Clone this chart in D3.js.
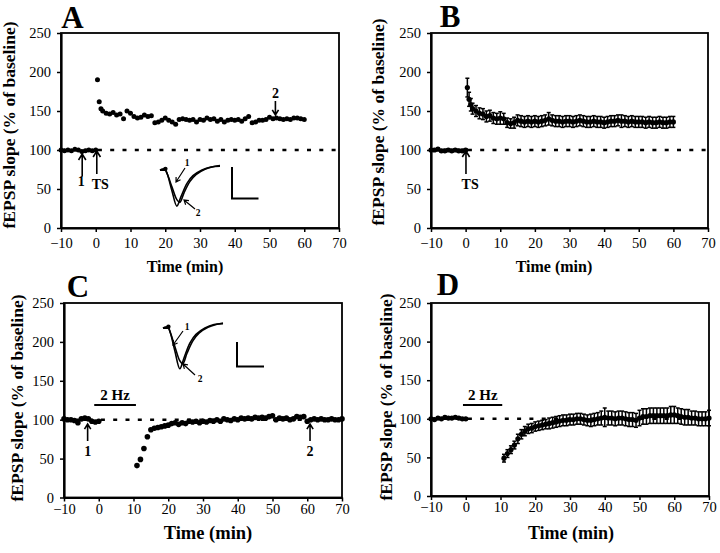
<!DOCTYPE html>
<html><head><meta charset="utf-8">
<script src="https://cdn.jsdelivr.net/npm/d3@7"></script>
<style>body{margin:0;background:#fff}svg{display:block}</style>
</head><body>
<svg id="chart" width="720" height="553"></svg>
<script>
// ---------- DATA ----------
const xTicks = [-10,0,10,20,30,40,50,60,70];
const yTicks = [0,50,100,150,200,250];

// Panel A: single experiment, TS-induced LTP
const timeA = [-10,-9,-8,-7,-6,-5,-4,-3,-2,-1,0,0.5,1,1.5,2,3,4,5,6,7,8,9,10,11,12,13,14,15,16,17,18,19,20,21,22,23,24,25,26,27,28,29,30,31,32,33,34,35,36,37,38,39,40,41,42,43,44,45,46,47,48,49,50,51,52,53,54,55,56,57,58,59,60];
const slopeA = [100,99,100,99,101,100,98,99,100,99,100,190,162,153,150,147,146,148,145,146,140,150,147,143,141,142,145,143,144,135,136,138,141,138,136,133,139,140,139,138,139,136,139,138,141,139,140,137,139,136,138,139,138,139,137,140,143,135,136,138,138,139,142,140,141,140,139,140,139,141,141,140,139];

// Panel B: group mean ± SEM, TS
const timeB = [-10,-9,-8,-7,-6,-5,-4,-3,-2,-1,0,0.5,1,1.5,2,3,4,5,6,7,8,9,10,11,12,13,14,15,16,17,18,19,20,21,22,23,24,25,26,27,28,29,30,31,32,33,34,35,36,37,38,39,40,41,42,43,44,45,46,47,48,49,50,51,52,53,54,55,56,57,58,59,60];
const meanB = [100,100,101,99,99,100,99,100,99,99,100,180,165,158,153,150,147,146,143,144,141,140,141,140,135,134,135,138,137,136,137,136,137,136,137,138,140,138,137,137,136,137,137,136,137,138,137,136,136,137,136,136,135,136,137,137,138,137,137,136,137,136,136,136,135,136,135,135,136,135,135,136,136];
const semB  = [1.5,1.5,1.5,1.5,1.5,1.5,1.5,1.5,1.5,1.5,1.5,12,9,8,7,7,7,7,7,7,7,7,8,7,6,6,7,7,7,7,7,7,7,7,7,7,8,7,7,7,7,7,7,7,7,7,7,7,7,7,7,7,7,7,7,7,7,8,7,7,7,7,7,7,7,7,7,7,7,7,7,7,7];

// Panel C: single experiment, 2 Hz stimulation
const timeC = [-10,-9,-8,-7,-6,-5,-4,-3,-2,-1,0,11,12,13,14,15,16,17,18,19,20,21,22,23,24,25,26,27,28,29,30,31,32,33,34,35,36,37,38,39,40,41,42,43,44,45,46,47,48,49,50,51,52,53,54,55,56,57,58,59,60,61,62,63,64,65,66,67,68,69,70];
const slopeC = [101,100,100,99,96,101,102,101,98,97,98,41,49,63,78,87,89,90,91,92,93,95,96,94,96,95,98,97,98,96,98,97,99,98,100,98,101,100,99,101,100,102,101,102,101,103,102,103,102,104,105,100,102,101,102,100,101,104,103,104,98,100,101,100,101,100,100,101,100,100,101];

// Panel D: group mean ± SEM, 2 Hz
const timeD = [-10,-9,-8,-7,-6,-5,-4,-3,-2,-1,0,11,12,13,14,15,16,17,18,19,20,21,22,23,24,25,26,27,28,29,30,31,32,33,34,35,36,37,38,39,40,41,42,43,44,45,46,47,48,49,50,51,52,53,54,55,56,57,58,59,60,61,62,63,64,65,66,67,68,69,70];
const meanD = [100,99,101,100,102,101,101,102,101,100,100,49,55,60,66,74,80,84,87,88,90,91,92,93,94,95,96,97,98,98,99,99,100,100,99,98,98,99,100,101,102,101,101,100,101,101,100,99,99,98,101,103,103,104,104,104,104,104,104,105,105,104,103,102,102,101,101,100,100,100,101];
const semD  = [1,1,1,1,1,1,1,1,1,1,1,5,5,5,5,6,6,6,6,6,6,6,6,6,7,7,7,7,7,7,7,7,7,7,7,7,8,8,8,9,12,9,9,9,9,9,9,9,9,9,10,10,10,10,10,10,10,10,10,11,11,10,10,10,10,9,9,9,9,9,10];

// Inset EPSP sketches (arbitrary units: time, voltage)
const insetTime1 = [0,0.8,1.2,2.0,2.8,3.3,4.0,5.0,6.0,7.5,9.0,10];
const insetVolt1 = [0,0.02,-0.1,-0.45,-0.78,-0.85,-0.6,-0.3,-0.12,0.02,0.09,0.12];
const insetTime2 = [0,0.8,1.2,2.0,2.8,3.5,4.5,5.5,7.0,8.5,10];
const insetVolt2 = [0,0.02,-0.1,-0.55,-0.95,-0.7,-0.35,-0.15,0.0,0.08,0.1];

// ---------- DRAW ----------
const svg = d3.select("#chart");
const SERIF = "'Liberation Serif','Times New Roman',serif";

function panel(cfg){
  const x = d3.scaleLinear().domain([-10,70]).range([cfg.left,cfg.right]);
  const y = d3.scaleLinear().domain([0,250]).range([cfg.bottom,cfg.top]);
  const g = svg.append("g");
  g.append("rect").attr("x",cfg.left).attr("y",cfg.top)
    .attr("width",cfg.right-cfg.left).attr("height",cfg.bottom-cfg.top)
    .attr("fill","none").attr("stroke","#000").attr("stroke-width",1.8);
  g.append("line").attr("x1",x(-10)).attr("x2",x(70)).attr("y1",y(100)).attr("y2",y(100))
    .attr("stroke","#000").attr("stroke-width",2.6).attr("stroke-dasharray","4,8.3");
  const ax = g.append("g").attr("transform",`translate(0,${cfg.bottom})`)
    .call(d3.axisBottom(x).tickValues(xTicks).tickFormat(d3.format("d")).tickSize(4).tickSizeOuter(0).tickPadding(cfg.xpad));
  const ay = g.append("g").attr("transform",`translate(${cfg.left},0)`)
    .call(d3.axisLeft(y).tickValues(yTicks).tickSize(4).tickSizeOuter(0).tickPadding(6));
  [ax,ay].forEach(a=>{
    a.attr("font-family",SERIF).attr("font-size",14.5);
    a.select(".domain").attr("stroke-width",2.2);
    a.selectAll(".tick line").attr("stroke-width",1.5);
    a.selectAll("text").attr("font-family",SERIF).attr("font-size",14.5).attr("fill","#000");
  });
  g.append("text").attr("x",cfg.xtX).attr("y",cfg.xtY).attr("text-anchor","middle")
    .attr("font-family",SERIF).attr("font-weight","bold").attr("font-size",cfg.xtSize).text("Time (min)");
  g.append("text").attr("transform",`translate(${cfg.ytX},${cfg.ytY}) rotate(-90)`).attr("text-anchor","middle")
    .attr("font-family",SERIF).attr("font-weight","bold").attr("font-size",17.5).text("fEPSP slope (% of baseline)");
  g.append("text").attr("x",cfg.lx).attr("y",cfg.ly).attr("text-anchor","middle")
    .attr("font-family",SERIF).attr("font-weight","bold").attr("font-size",31).text(cfg.letter);
  return {x,y,g};
}

function dots(p, times, vals, r){
  p.g.append("g").selectAll("circle").data(times).join("circle")
    .attr("cx",d=>p.x(d)).attr("cy",(d,i)=>p.y(vals[i])).attr("r",r).attr("fill","#000");
}
function errDots(p, times, means, sems, r){
  const gg = p.g.append("g").attr("stroke","#000").attr("stroke-width",1.5);
  times.forEach((t,i)=>{
    const cx = p.x(t), hi = p.y(means[i]+sems[i]), lo = p.y(means[i]-sems[i]);
    gg.append("line").attr("x1",cx).attr("x2",cx).attr("y1",hi).attr("y2",lo);
    gg.append("line").attr("x1",cx-2).attr("x2",cx+2).attr("y1",hi).attr("y2",hi);
    gg.append("line").attr("x1",cx-2).attr("x2",cx+2).attr("y1",lo).attr("y2",lo);
  });
  p.g.append("g").selectAll("circle").data(times).join("circle")
    .attr("cx",d=>p.x(d)).attr("cy",(d,i)=>p.y(means[i])).attr("r",r).attr("fill","#000");
}
function arrow(g, x1,y1,x2,y2, head, w){
  const a = Math.atan2(y2-y1,x2-x1), s = 0.55;
  g.append("path").attr("fill","none").attr("stroke","#000").attr("stroke-width",w||1.6)
    .attr("d",`M${x1},${y1}L${x2},${y2}M${x2-head*Math.cos(a-s)},${y2-head*Math.sin(a-s)}L${x2},${y2}L${x2-head*Math.cos(a+s)},${y2-head*Math.sin(a+s)}`);
}
function label(g, x, y, txt, size){
  g.append("text").attr("x",x).attr("y",y).attr("text-anchor","middle")
    .attr("font-family",SERIF).attr("font-weight","bold").attr("font-size",size).text(txt);
}
function inset(g, ox, oy, w, h, two){
  const ix = d3.scaleLinear().domain([0,10]).range([ox,ox+w]);
  const iy = d3.scaleLinear().domain([0,-1]).range([oy,oy+h]);
  const line = d3.line().x(d=>ix(d[0])).y(d=>iy(d[1])).curve(d3.curveCatmullRom);
  const gg = g.append("g").attr("fill","none").attr("stroke","#000").attr("stroke-width",1.6);
  gg.append("path").attr("d",line(insetTime1.map((t,i)=>[t,insetVolt1[i]])));
  if(two) gg.append("path").attr("d",line(insetTime2.map((t,i)=>[t,insetVolt2[i]])));
  else gg.append("path").attr("d",line(insetTime2.map((t,i)=>[t,insetVolt2[i]*1.02])));
  gg.append("line").attr("x1",ix(0)).attr("x2",ix(0.9)).attr("y1",iy(0)).attr("y2",iy(0)).attr("stroke-width",2);
  g.append("circle").attr("cx",ix(0.9)).attr("cy",iy(0.03)).attr("r",2.2).attr("fill","#000");
  return {ix,iy};
}

// ---- Panel A
const pA = panel({left:61,right:339,top:33,bottom:228,letter:"A",lx:72.5,ly:28,xpad:6,
  xtX:185,xtY:272,xtSize:16,ytX:15,ytY:125});
dots(pA,timeA,slopeA,2.5);
arrow(pA.g, pA.x(-3.9),176.5, pA.x(-3.9),154, 7);
label(pA.g, pA.x(-4.2),186, "1", 14);
arrow(pA.g, pA.x(0.3),174, pA.x(0.3),151, 7);
label(pA.g, pA.x(1.3),189, "TS", 14);
arrow(pA.g, pA.x(51.7),101, pA.x(51.7),115, 6);
label(pA.g, pA.x(51.7),98, "2", 14);
{ inset(pA.g,160,170,60,38,true);
  label(pA.g,187,166,"1",9.5); arrow(pA.g,185,168,176,182,5,1.2);
  label(pA.g,198,216,"2",9.5); arrow(pA.g,195,209,184,200,5,1.2);
  pA.g.append("path").attr("fill","none").attr("stroke","#000").attr("stroke-width",2)
    .attr("d","M232,167V198.5H258.5"); }

// ---- Panel B
const pB = panel({left:431,right:708,top:33,bottom:228,letter:"B",lx:450,ly:27,xpad:6,
  xtX:554,xtY:272,xtSize:16,ytX:384,ytY:122});
errDots(pB,timeB,meanB,semB,2.6);
arrow(pB.g, pB.x(0.1),174, pB.x(0.1),151, 7);
label(pB.g, pB.x(1.3),189, "TS", 14);

// ---- Panel C
const pC = panel({left:64,right:342,top:303,bottom:497.5,letter:"C",lx:78,ly:297,xpad:2,
  xtX:208,xtY:539,xtSize:18.5,ytX:23,ytY:398});
dots(pC,timeC,slopeC,2.8);
pC.g.append("line").attr("x1",pC.x(-1.3)).attr("x2",pC.x(10.7)).attr("y1",405).attr("y2",405)
  .attr("stroke","#000").attr("stroke-width",2);
label(pC.g, pC.x(4.7),400, "2 Hz", 15);
arrow(pC.g, pC.x(-3.2),441, pC.x(-3.2),424, 6);
label(pC.g, pC.x(-3.2),456, "1", 14);
arrow(pC.g, pC.x(60.8),441, pC.x(60.8),424, 6);
label(pC.g, pC.x(60.8),456, "2", 14);
{ inset(pC.g,163,328,60,42,false);
  label(pC.g,187,330,"1",9.5); arrow(pC.g,183,331,173,345,5,1.2);
  label(pC.g,200,382,"2",9.5); arrow(pC.g,195,375,183,364,5,1.2);
  pC.g.append("path").attr("fill","none").attr("stroke","#000").attr("stroke-width",2)
    .attr("d","M237,342V366.5H264"); }

// ---- Panel D
const pD = panel({left:431,right:709,top:303,bottom:496,letter:"D",lx:448,ly:295,xpad:2,
  xtX:571,xtY:539,xtSize:18,ytX:392,ytY:397});
errDots(pD,timeD,meanD,semD,2.6);
pD.g.append("line").attr("x1",pD.x(-0.8)).attr("x2",pD.x(10.5)).attr("y1",405).attr("y2",405)
  .attr("stroke","#000").attr("stroke-width",2);
label(pD.g, pD.x(4.9),400, "2 Hz", 15);
</script>
</body></html>
